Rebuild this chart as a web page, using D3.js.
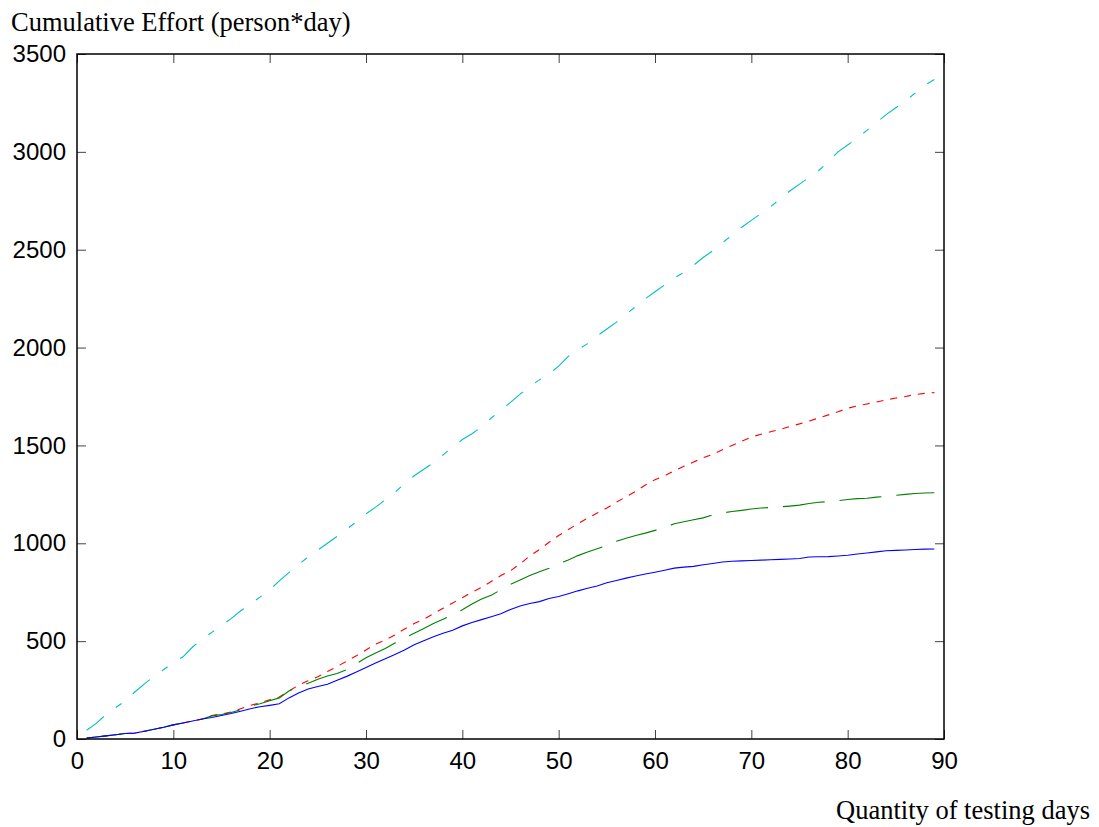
<!DOCTYPE html>
<html>
<head>
<meta charset="utf-8">
<script src="https://cdn.jsdelivr.net/npm/d3@7"></script>
<style>
  body { margin: 0; background: #fff; }
  svg { display: block; }
</style>
</head>
<body>
<svg id="chart"></svg>
<script>
// testing days 1..89
const days = d3.range(1, 90);

const blueEffort = [5,10,16,22,28,30,40,50,60,72,82,92,102,110,120,130,142,155,165,172,
  180,210,235,255,268,280,300,320,342,365,388,410,432,455,482,502,522,540,556,578,
  595,610,625,640,662,680,692,702,718,728,742,757,770,782,798,810,822,833,843,852,
  862,873,878,882,890,897,904,908,910,912,914,916,918,920,922,930,931,932,935,939,
  945,950,956,962,964,966,968,970,971];

const greenEffort = [5,10,16,22,28,30,40,50,60,72,82,92,102,118,125,135,150,168,180,195,
  210,245,268,285,305,322,335,355,385,415,440,462,490,515,540,565,590,612,635,660,
  690,715,735,762,790,812,835,855,872,895,915,937,955,972,990,1010,1026,1040,1052,1066,
  1080,1100,1110,1120,1130,1145,1155,1162,1168,1175,1180,1183,1186,1190,1195,1203,1210,1213,1218,1224,
  1228,1230,1236,1240,1245,1250,1254,1257,1258];

const redEffort = [5,10,16,22,28,30,40,50,60,72,82,92,102,120,128,138,155,172,185,200,
  215,245,275,298,318,345,370,398,425,455,485,505,532,562,590,612,640,668,695,722,
  750,775,805,835,860,895,935,968,1005,1040,1070,1100,1128,1155,1180,1210,1238,1265,1298,1325,
  1345,1370,1393,1415,1437,1455,1478,1500,1522,1543,1557,1570,1582,1597,1610,1625,1640,1656,1672,1690,
  1702,1712,1722,1733,1742,1750,1760,1766,1770];

const cyanEffort = [45,80,125,160,195,240,282,320,355,390,420,470,510,545,580,615,655,690,725,762,
  808,850,892,930,965,1000,1035,1072,1110,1150,1185,1222,1260,1305,1345,1378,1412,1452,1490,1530,
  1560,1595,1640,1680,1720,1762,1800,1835,1865,1905,1955,1990,2020,2060,2095,2130,2170,2210,2250,2285,
  2320,2355,2385,2420,2460,2495,2535,2575,2615,2650,2685,2720,2760,2800,2835,2870,2905,2950,3000,3035,
  3070,3110,3150,3190,3225,3260,3300,3340,3370];

const xTicks = [0,10,20,30,40,50,60,70,80,90];
const yTicks = [0,500,1000,1500,2000,2500,3000,3500];

const width = 1099, height = 827;
const plot = { left: 77, right: 944, top: 54, bottom: 739 };

const svg = d3.select('#chart')
  .attr('width', width)
  .attr('height', height);

const x = d3.scaleLinear().domain([0, 90]).range([plot.left, plot.right]);
const y = d3.scaleLinear().domain([0, 3500]).range([plot.bottom, plot.top]);

// axes (ticks point inward, like the original figure)
const tickFont = '"Liberation Sans", Arial, Helvetica, sans-serif';
const fmt = d3.format('d');

const bottomAxis = svg.append('g')
  .attr('transform', `translate(0, ${plot.bottom})`)
  .call(d3.axisBottom(x).tickValues(xTicks).tickFormat(fmt)
    .tickSizeInner(-9).tickSizeOuter(0).tickPadding(13));

const leftAxis = svg.append('g')
  .attr('transform', `translate(${plot.left}, 0)`)
  .call(d3.axisLeft(y).tickValues(yTicks).tickFormat(fmt)
    .tickSizeInner(-9).tickSizeOuter(0).tickPadding(11));

const topAxis = svg.append('g')
  .attr('transform', `translate(0, ${plot.top})`)
  .call(d3.axisTop(x).tickValues(xTicks).tickSizeInner(-9).tickSizeOuter(0).tickFormat(''));

const rightAxis = svg.append('g')
  .attr('transform', `translate(${plot.right}, 0)`)
  .call(d3.axisRight(y).tickValues(yTicks).tickSizeInner(-9).tickSizeOuter(0).tickFormat(''));

[bottomAxis, leftAxis, topAxis, rightAxis].forEach(a => {
  a.select('.domain').remove();
  a.selectAll('.tick line').attr('stroke', '#444').attr('stroke-width', 1);
  a.selectAll('.tick text')
    .attr('fill', '#000')
    .style('font-family', tickFont)
    .style('font-size', '24px');
});

// series
const series = [
  { values: cyanEffort, color: '#00bfbf', dash: '22,15,7,15' },
  { values: redEffort, color: '#ff0000', dash: '7,7' },
  { values: greenEffort, color: '#008000', dash: '42,15' },
  { values: blueEffort, color: '#0000ff', dash: null }
];

const line = d3.line()
  .x((d, i) => x(days[i]))
  .y(d => y(d));

series.forEach(s => {
  svg.append('path')
    .datum(s.values)
    .attr('d', line)
    .attr('fill', 'none')
    .attr('stroke', s.color)
    .attr('stroke-width', 1.1)
    .attr('stroke-dasharray', s.dash);
});

// plot box
svg.append('rect')
  .attr('x', plot.left)
  .attr('y', plot.top)
  .attr('width', plot.right - plot.left)
  .attr('height', plot.bottom - plot.top)
  .attr('fill', 'none')
  .attr('stroke', '#000')
  .attr('stroke-width', 1.5);

// axis titles
const titleFont = '"Liberation Serif", "Times New Roman", serif';

svg.append('text')
  .attr('x', 11)
  .attr('y', 31)
  .style('font-family', titleFont)
  .style('font-size', '26.5px')
  .text('Cumulative Effort (person*day)');

svg.append('text')
  .attr('x', 1090)
  .attr('y', 819)
  .attr('text-anchor', 'end')
  .style('font-family', titleFont)
  .style('font-size', '26.5px')
  .text('Quantity of testing days');
</script>
</body>
</html>
